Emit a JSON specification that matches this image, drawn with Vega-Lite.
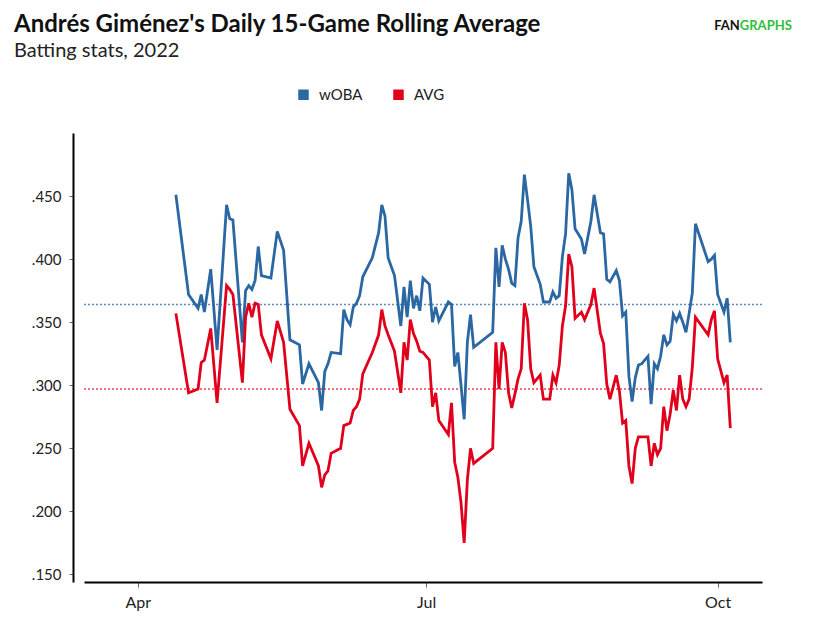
{
  "$schema": "https://vega.github.io/schema/vega-lite/v6.json",
  "width": 678,
  "height": 449,
  "autosize": {"type": "none"},
  "padding": {"left": 84, "top": 133, "right": 61, "bottom": 43},
  "title": {
    "text": "Andrés Giménez's Daily 15-Game Rolling Average",
    "subtitle": "Batting stats, 2022",
    "anchor": "start",
    "frame": "group",
    "dx": -70,
    "offset": -41,
    "font": "Lato",
    "fontSize": 24,
    "fontWeight": "bold",
    "color": "#111",
    "subtitleFont": "Lato",
    "subtitleFontSize": 20,
    "subtitleColor": "#222",
    "subtitlePadding": 4
  },
  "config": {
    "view": {"stroke": null},
    "font": "Lato"
  },
  "datasets": {
    "rolling": [
      {"date": "2022-04-13", "wOBA": 0.451, "AVG": 0.357},
      {"date": "2022-04-17", "wOBA": 0.372, "AVG": 0.294},
      {"date": "2022-04-20", "wOBA": 0.361, "AVG": 0.297},
      {"date": "2022-04-21", "wOBA": 0.372, "AVG": 0.318},
      {"date": "2022-04-22", "wOBA": 0.358, "AVG": 0.320},
      {"date": "2022-04-24", "wOBA": 0.392, "AVG": 0.345},
      {"date": "2022-04-26", "wOBA": 0.328, "AVG": 0.286},
      {"date": "2022-04-29", "wOBA": 0.443, "AVG": 0.379},
      {"date": "2022-04-30", "wOBA": 0.432, "AVG": 0.376},
      {"date": "2022-05-01", "wOBA": 0.431, "AVG": 0.372},
      {"date": "2022-05-04", "wOBA": 0.334, "AVG": 0.302},
      {"date": "2022-05-05", "wOBA": 0.375, "AVG": 0.354},
      {"date": "2022-05-06", "wOBA": 0.379, "AVG": 0.365},
      {"date": "2022-05-07", "wOBA": 0.376, "AVG": 0.354},
      {"date": "2022-05-08", "wOBA": 0.383, "AVG": 0.365},
      {"date": "2022-05-09", "wOBA": 0.410, "AVG": 0.364},
      {"date": "2022-05-10", "wOBA": 0.387, "AVG": 0.340},
      {"date": "2022-05-13", "wOBA": 0.385, "AVG": 0.321},
      {"date": "2022-05-15", "wOBA": 0.422, "AVG": 0.351},
      {"date": "2022-05-17", "wOBA": 0.407, "AVG": 0.334},
      {"date": "2022-05-19", "wOBA": 0.336, "AVG": 0.281},
      {"date": "2022-05-22", "wOBA": 0.332, "AVG": 0.268},
      {"date": "2022-05-23", "wOBA": 0.301, "AVG": 0.236},
      {"date": "2022-05-25", "wOBA": 0.317, "AVG": 0.254},
      {"date": "2022-05-28", "wOBA": 0.302, "AVG": 0.236},
      {"date": "2022-05-29", "wOBA": 0.280, "AVG": 0.219},
      {"date": "2022-05-30", "wOBA": 0.311, "AVG": 0.229},
      {"date": "2022-05-31", "wOBA": 0.317, "AVG": 0.232},
      {"date": "2022-06-01", "wOBA": 0.326, "AVG": 0.246},
      {"date": "2022-06-04", "wOBA": 0.325, "AVG": 0.250},
      {"date": "2022-06-05", "wOBA": 0.360, "AVG": 0.268},
      {"date": "2022-06-06", "wOBA": 0.352, "AVG": 0.269},
      {"date": "2022-06-07", "wOBA": 0.348, "AVG": 0.270},
      {"date": "2022-06-08", "wOBA": 0.362, "AVG": 0.280},
      {"date": "2022-06-09", "wOBA": 0.365, "AVG": 0.283},
      {"date": "2022-06-10", "wOBA": 0.371, "AVG": 0.289},
      {"date": "2022-06-11", "wOBA": 0.386, "AVG": 0.309},
      {"date": "2022-06-14", "wOBA": 0.401, "AVG": 0.326},
      {"date": "2022-06-16", "wOBA": 0.421, "AVG": 0.340},
      {"date": "2022-06-17", "wOBA": 0.443, "AVG": 0.360},
      {"date": "2022-06-18", "wOBA": 0.434, "AVG": 0.347},
      {"date": "2022-06-19", "wOBA": 0.401, "AVG": 0.340},
      {"date": "2022-06-21", "wOBA": 0.387, "AVG": 0.327},
      {"date": "2022-06-23", "wOBA": 0.347, "AVG": 0.294},
      {"date": "2022-06-24", "wOBA": 0.378, "AVG": 0.334},
      {"date": "2022-06-25", "wOBA": 0.354, "AVG": 0.320},
      {"date": "2022-06-26", "wOBA": 0.383, "AVG": 0.352},
      {"date": "2022-06-27", "wOBA": 0.361, "AVG": 0.341},
      {"date": "2022-06-28", "wOBA": 0.371, "AVG": 0.335},
      {"date": "2022-06-29", "wOBA": 0.359, "AVG": 0.327},
      {"date": "2022-06-30", "wOBA": 0.385, "AVG": 0.326},
      {"date": "2022-07-02", "wOBA": 0.380, "AVG": 0.320},
      {"date": "2022-07-03", "wOBA": 0.350, "AVG": 0.283},
      {"date": "2022-07-04", "wOBA": 0.362, "AVG": 0.294},
      {"date": "2022-07-05", "wOBA": 0.351, "AVG": 0.272},
      {"date": "2022-07-08", "wOBA": 0.366, "AVG": 0.261},
      {"date": "2022-07-09", "wOBA": 0.364, "AVG": 0.286},
      {"date": "2022-07-10", "wOBA": 0.315, "AVG": 0.239},
      {"date": "2022-07-11", "wOBA": 0.326, "AVG": 0.227},
      {"date": "2022-07-12", "wOBA": 0.300, "AVG": 0.207},
      {"date": "2022-07-13", "wOBA": 0.273, "AVG": 0.175},
      {"date": "2022-07-14", "wOBA": 0.334, "AVG": 0.225},
      {"date": "2022-07-15", "wOBA": 0.356, "AVG": 0.250},
      {"date": "2022-07-16", "wOBA": 0.330, "AVG": 0.238},
      {"date": "2022-07-22", "wOBA": 0.342, "AVG": 0.250},
      {"date": "2022-07-23", "wOBA": 0.409, "AVG": 0.334},
      {"date": "2022-07-24", "wOBA": 0.378, "AVG": 0.297},
      {"date": "2022-07-25", "wOBA": 0.411, "AVG": 0.334},
      {"date": "2022-07-26", "wOBA": 0.400, "AVG": 0.326},
      {"date": "2022-07-27", "wOBA": 0.392, "AVG": 0.294},
      {"date": "2022-07-28", "wOBA": 0.381, "AVG": 0.282},
      {"date": "2022-07-29", "wOBA": 0.379, "AVG": 0.293},
      {"date": "2022-07-30", "wOBA": 0.417, "AVG": 0.305},
      {"date": "2022-07-31", "wOBA": 0.430, "AVG": 0.313},
      {"date": "2022-08-01", "wOBA": 0.467, "AVG": 0.365},
      {"date": "2022-08-02", "wOBA": 0.447, "AVG": 0.352},
      {"date": "2022-08-03", "wOBA": 0.426, "AVG": 0.313},
      {"date": "2022-08-04", "wOBA": 0.394, "AVG": 0.302},
      {"date": "2022-08-06", "wOBA": 0.380, "AVG": 0.308},
      {"date": "2022-08-07", "wOBA": 0.366, "AVG": 0.289},
      {"date": "2022-08-09", "wOBA": 0.366, "AVG": 0.289},
      {"date": "2022-08-10", "wOBA": 0.374, "AVG": 0.308},
      {"date": "2022-08-11", "wOBA": 0.369, "AVG": 0.302},
      {"date": "2022-08-12", "wOBA": 0.371, "AVG": 0.316},
      {"date": "2022-08-13", "wOBA": 0.402, "AVG": 0.347},
      {"date": "2022-08-14", "wOBA": 0.420, "AVG": 0.363},
      {"date": "2022-08-15", "wOBA": 0.468, "AVG": 0.404},
      {"date": "2022-08-16", "wOBA": 0.455, "AVG": 0.394},
      {"date": "2022-08-17", "wOBA": 0.424, "AVG": 0.353},
      {"date": "2022-08-19", "wOBA": 0.416, "AVG": 0.358},
      {"date": "2022-08-20", "wOBA": 0.404, "AVG": 0.352},
      {"date": "2022-08-22", "wOBA": 0.430, "AVG": 0.364},
      {"date": "2022-08-23", "wOBA": 0.451, "AVG": 0.377},
      {"date": "2022-08-25", "wOBA": 0.421, "AVG": 0.341},
      {"date": "2022-08-26", "wOBA": 0.420, "AVG": 0.333},
      {"date": "2022-08-27", "wOBA": 0.384, "AVG": 0.301},
      {"date": "2022-08-28", "wOBA": 0.382, "AVG": 0.289},
      {"date": "2022-08-30", "wOBA": 0.391, "AVG": 0.308},
      {"date": "2022-08-31", "wOBA": 0.383, "AVG": 0.295},
      {"date": "2022-09-01", "wOBA": 0.355, "AVG": 0.270},
      {"date": "2022-09-02", "wOBA": 0.358, "AVG": 0.272},
      {"date": "2022-09-03", "wOBA": 0.307, "AVG": 0.236},
      {"date": "2022-09-04", "wOBA": 0.287, "AVG": 0.222},
      {"date": "2022-09-05", "wOBA": 0.306, "AVG": 0.250},
      {"date": "2022-09-06", "wOBA": 0.316, "AVG": 0.259},
      {"date": "2022-09-07", "wOBA": 0.317, "AVG": 0.259},
      {"date": "2022-09-09", "wOBA": 0.323, "AVG": 0.259},
      {"date": "2022-09-10", "wOBA": 0.285, "AVG": 0.236},
      {"date": "2022-09-11", "wOBA": 0.317, "AVG": 0.254},
      {"date": "2022-09-12", "wOBA": 0.313, "AVG": 0.245},
      {"date": "2022-09-13", "wOBA": 0.323, "AVG": 0.250},
      {"date": "2022-09-14", "wOBA": 0.340, "AVG": 0.283},
      {"date": "2022-09-15", "wOBA": 0.332, "AVG": 0.264},
      {"date": "2022-09-16", "wOBA": 0.335, "AVG": 0.277},
      {"date": "2022-09-17", "wOBA": 0.356, "AVG": 0.296},
      {"date": "2022-09-18", "wOBA": 0.351, "AVG": 0.280},
      {"date": "2022-09-19", "wOBA": 0.357, "AVG": 0.308},
      {"date": "2022-09-20", "wOBA": 0.350, "AVG": 0.289},
      {"date": "2022-09-21", "wOBA": 0.342, "AVG": 0.283},
      {"date": "2022-09-22", "wOBA": 0.357, "AVG": 0.289},
      {"date": "2022-09-23", "wOBA": 0.373, "AVG": 0.314},
      {"date": "2022-09-24", "wOBA": 0.428, "AVG": 0.354},
      {"date": "2022-09-28", "wOBA": 0.398, "AVG": 0.340},
      {"date": "2022-09-29", "wOBA": 0.400, "AVG": 0.352},
      {"date": "2022-09-30", "wOBA": 0.403, "AVG": 0.359},
      {"date": "2022-10-01", "wOBA": 0.372, "AVG": 0.321},
      {"date": "2022-10-03", "wOBA": 0.358, "AVG": 0.302},
      {"date": "2022-10-04", "wOBA": 0.369, "AVG": 0.308},
      {"date": "2022-10-05", "wOBA": 0.334, "AVG": 0.266}
    ],
    "season": [
      {"stat": "wOBA", "avg": 0.364},
      {"stat": "AVG", "avg": 0.297}
    ]
  },
  "layer": [
    {
      "data": {"name": "season"},
      "mark": {"type": "rule", "strokeDash": [2, 2], "strokeWidth": 1.5, "opacity": 0.75},
      "encoding": {
        "y": {"field": "avg", "type": "quantitative"},
        "color": {"field": "stat", "type": "nominal"}
      }
    },
    {
      "data": {"name": "rolling"},
      "transform": [{"fold": ["wOBA", "AVG"], "as": ["stat", "value"]}],
      "mark": {"type": "line", "strokeWidth": 2.8, "strokeJoin": "miter"},
      "encoding": {
        "x": {
          "field": "date",
          "type": "temporal",
          "scale": {
            "type": "utc",
            "domain": [
              {"year": 2022, "month": 3, "date": 15, "utc": true},
              {"year": 2022, "month": 10, "date": 15, "utc": true}
            ]
          },
          "axis": {
            "title": null,
            "grid": false,
            "values": [
              {"year": 2022, "month": 4, "date": 1, "utc": true},
              {"year": 2022, "month": 7, "date": 1, "utc": true},
              {"year": 2022, "month": 10, "date": 1, "utc": true}
            ],
            "labelExpr": "utcFormat(datum.value, '%b')",
            "domainColor": "#000",
            "domainWidth": 2,
            "tickColor": "#666",
            "tickSize": 5,
            "labelFont": "Lato",
            "labelFontSize": 16,
            "labelColor": "#222",
            "labelPadding": 7
          }
        },
        "y": {
          "field": "value",
          "type": "quantitative",
          "scale": {"domain": [0.144, 0.5], "nice": false, "zero": false},
          "axis": {
            "title": null,
            "grid": false,
            "offset": 11,
            "values": [0.15, 0.2, 0.25, 0.3, 0.35, 0.4, 0.45],
            "labelExpr": "slice(format(datum.value, '.3f'), 1)",
            "domainColor": "#000",
            "domainWidth": 2,
            "tickColor": "#666",
            "tickSize": 4,
            "labelFont": "Lato",
            "labelFontSize": 15,
            "labelColor": "#222",
            "labelPadding": 8
          }
        },
        "color": {
          "field": "stat",
          "type": "nominal",
          "scale": {"domain": ["wOBA", "AVG"], "range": ["#2b67a2", "#e1001b"]},
          "legend": {
            "title": null,
            "orient": "none",
            "direction": "horizontal",
            "legendX": 212,
            "legendY": -46,
            "symbolType": "square",
            "symbolSize": 110,
            "symbolStrokeWidth": 0,
            "labelFont": "Lato",
            "labelFontSize": 15,
            "labelColor": "#222",
            "labelOffset": 8,
            "columnPadding": 28,
            "encode": {
              "symbols": {
                "update": {
                  "fill": {"scale": "color", "field": "value"},
                  "fillOpacity": {"value": 1},
                  "strokeWidth": {"value": 0},
                  "opacity": {"value": 1}
                }
              }
            }
          }
        }
      }
    },
    {
      "data": {"values": [{}]},
      "mark": {"type": "text", "text": "FAN", "align": "right", "baseline": "alphabetic", "font": "Lato", "fontSize": 13, "fontWeight": "bold", "color": "#111"},
      "encoding": {
        "x": {"datum": {"year": 2022, "month": 10, "date": 8, "utc": true}, "type": "temporal"},
        "y": {"datum": 0.5816, "type": "quantitative"}
      }
    },
    {
      "data": {"values": [{}]},
      "mark": {"type": "text", "text": "GRAPHS", "align": "left", "baseline": "alphabetic", "font": "Lato", "fontSize": 13, "fontWeight": "bold", "color": "#2fbf3a"},
      "encoding": {
        "x": {"datum": {"year": 2022, "month": 10, "date": 8, "utc": true}, "type": "temporal"},
        "y": {"datum": 0.5816, "type": "quantitative"}
      }
    }
  ]
}
